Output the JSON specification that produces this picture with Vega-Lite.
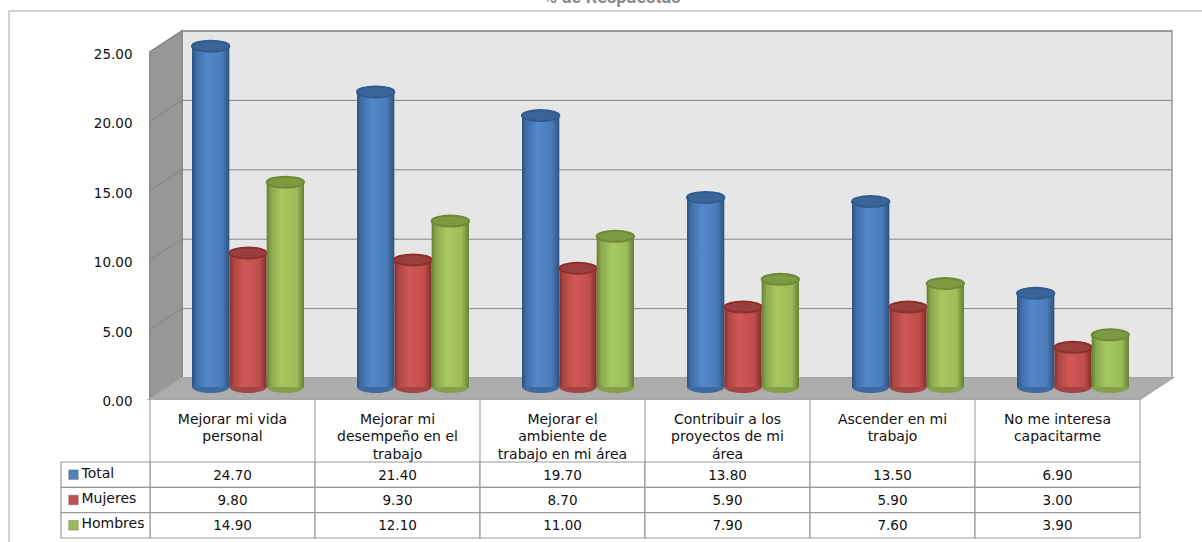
{"$schema":"https://vega.github.io/schema/vega-lite/v6.json","width":990,"height":347,"padding":{"left":150,"top":52,"right":62,"bottom":143},"autosize":"none","background":"white","config":{"view":{"stroke":null}},"datasets":{"rows":[
{"cat":"Mejorar mi vida personal","serie":"Total","value":24.7},{"cat":"Mejorar mi vida personal","serie":"Mujeres","value":9.8},{"cat":"Mejorar mi vida personal","serie":"Hombres","value":14.9},
{"cat":"Mejorar mi desempeño en el trabajo","serie":"Total","value":21.4},{"cat":"Mejorar mi desempeño en el trabajo","serie":"Mujeres","value":9.3},{"cat":"Mejorar mi desempeño en el trabajo","serie":"Hombres","value":12.1},
{"cat":"Mejorar el ambiente de trabajo en mi área","serie":"Total","value":19.7},{"cat":"Mejorar el ambiente de trabajo en mi área","serie":"Mujeres","value":8.7},{"cat":"Mejorar el ambiente de trabajo en mi área","serie":"Hombres","value":11.0},
{"cat":"Contribuir a los proyectos de mi área","serie":"Total","value":13.8},{"cat":"Contribuir a los proyectos de mi área","serie":"Mujeres","value":5.9},{"cat":"Contribuir a los proyectos de mi área","serie":"Hombres","value":7.9},
{"cat":"Ascender en mi trabajo","serie":"Total","value":13.5},{"cat":"Ascender en mi trabajo","serie":"Mujeres","value":5.9},{"cat":"Ascender en mi trabajo","serie":"Hombres","value":7.6},
{"cat":"No me interesa capacitarme","serie":"Total","value":6.9},{"cat":"No me interesa capacitarme","serie":"Mujeres","value":3.0},{"cat":"No me interesa capacitarme","serie":"Hombres","value":3.9}],
"cats":[{"cat":"Mejorar mi vida personal","label":"Mejorar mi vida\npersonal"},{"cat":"Mejorar mi desempeño en el trabajo","label":"Mejorar mi\ndesempeño en el\ntrabajo"},{"cat":"Mejorar el ambiente de trabajo en mi área","label":"Mejorar el\nambiente de\ntrabajo en mi área"},{"cat":"Contribuir a los proyectos de mi área","label":"Contribuir a los\nproyectos de mi\nárea"},{"cat":"Ascender en mi trabajo","label":"Ascender en mi\ntrabajo"},{"cat":"No me interesa capacitarme","label":"No me interesa\ncapacitarme"}],
"ticks":[{"v":0},{"v":5},{"v":10},{"v":15},{"v":20},{"v":25}],
"series":[{"serie":"Total"},{"serie":"Mujeres"},{"serie":"Hombres"}]},
"resolve":{"scale":{"y":"independent"},"axis":{"y":"independent"}},
"encoding":{"x":{"field":"cat","type":"nominal","sort":null,"scale":{"domain":["Mejorar mi vida personal","Mejorar mi desempeño en el trabajo","Mejorar el ambiente de trabajo en mi área","Contribuir a los proyectos de mi área","Ascender en mi trabajo","No me interesa capacitarme"],"paddingInner":0,"paddingOuter":0},"axis":null}},
"layer":[
{"encoding":{"y":{"field":"value","type":"quantitative","scale":{"domain":[0,25],"nice":false},"axis":{"values":[0,5,10,15,20,25],"format":".2f","domain":false,"ticks":false,"grid":false,"title":null,"labelFont":"DejaVu Sans","labelFontSize":13.5,"labelColor":"#111111","labelPadding":18,"labelOffset":2.5}}},
"layer":[
{"data":{"name":"ticks"},"transform":[{"filter":"datum.v==0"}],"mark":{"type":"point","shape":"M32,-21H1022V-368H32Z","size":4,"filled":true,"fill":"#e6e6e6","stroke":"#b0b0b0","opacity":1},"encoding":{"x":{"datum":"Mejorar mi vida personal","bandPosition":0},"y":{"field":"v","type":"quantitative"}}},
{"data":{"name":"ticks"},"transform":[{"filter":"datum.v==0"}],"mark":{"type":"point","shape":"M0,0L32,-21V-368L0,-347Z","size":4,"filled":true,"fill":"#979797","stroke":"#8c8c8c","opacity":1},"encoding":{"x":{"datum":"Mejorar mi vida personal","bandPosition":0},"y":{"field":"v","type":"quantitative"}}},
{"data":{"name":"ticks"},"transform":[{"filter":"datum.v>0"}],"mark":{"type":"point","shape":"M0,0L32,-21H1022","size":4,"filled":false,"stroke":"#868686","strokeWidth":1,"opacity":1},"encoding":{"x":{"datum":"Mejorar mi vida personal","bandPosition":0},"y":{"field":"v","type":"quantitative"}}},
{"data":{"name":"ticks"},"transform":[{"filter":"datum.v==0"}],"mark":{"type":"point","shape":"M0,0H990L1022,-21H32Z","size":4,"filled":true,"fill":"#adadad","stroke":"#a8a8a8","opacity":1},"encoding":{"x":{"datum":"Mejorar mi vida personal","bandPosition":0},"y":{"field":"v","type":"quantitative"}}},
{"data":{"name":"ticks"},"transform":[{"filter":"datum.v==0"}],"mark":{"type":"point","shape":"M-141,145V-388H1060","size":4,"filled":false,"stroke":"#a3a3a3","strokeWidth":1,"opacity":1},"encoding":{"x":{"datum":"Mejorar mi vida personal","bandPosition":0},"y":{"field":"v","type":"quantitative"}}},
{"data":{"name":"ticks"},"transform":[{"filter":"datum.v==25"}],"mark":{"type":"text","text":"% de Respuestas","font":"Roboto","fontSize":18,"color":"#8a8a8a","fontWeight":"bold","baseline":"alphabetic","dy":-49},"encoding":{"x":{"datum":"Mejorar el ambiente de trabajo en mi área","bandPosition":0.8},"y":{"field":"v","type":"quantitative"}}},
{"data":{"name":"rows"},"transform":[{"filter":"datum.serie=='Total'"}],"layer":[
{"mark":{"type":"bar","yOffset":-10,"y2Offset":-12,"color":{"gradient":"linear","x1":0,"x2":1,"y1":0,"y2":0,"stops":[{"offset":0,"color":"#2b5280"},{"offset":0.12,"color":"#3f6fa8"},{"offset":0.4,"color":"#5288ca"},{"offset":0.8,"color":"#4b7cb8"},{"offset":1,"color":"#2c5282"}]}},"encoding":{"y2":{"datum":0},"xOffset":{"field":"serie","type":"nominal","scale":{"domain":["Total","Mujeres","Hombres"],"paddingInner":0,"paddingOuter":0,"range":[42,154]}}}},
{"mark":{"type":"point","shape":"M-18.7,0A18.7,5.5 0 0 1 18.7,0A18.7,5.5 0 0 1 -18.7,0Z","size":4,"filled":true,"fill":"#3a6597","stroke":"#2f5b8f","opacity":1,"yOffset":-10},"encoding":{"xOffset":{"field":"serie","type":"nominal"}}},
{"mark":{"type":"point","shape":"M-18.7,0A18.7,6 0 0 0 18.7,0Z","size":4,"filled":true,"fill":"#3d6a9f","opacity":1,"yOffset":-12},"encoding":{"y":{"datum":0},"xOffset":{"field":"serie","type":"nominal"}}}
]},
{"data":{"name":"rows"},"transform":[{"filter":"datum.serie=='Mujeres'"}],"layer":[
{"mark":{"type":"bar","yOffset":-10,"y2Offset":-12,"color":{"gradient":"linear","x1":0,"x2":1,"y1":0,"y2":0,"stops":[{"offset":0,"color":"#82302d"},{"offset":0.12,"color":"#ad4845"},{"offset":0.4,"color":"#cf5855"},{"offset":0.8,"color":"#bf4f4c"},{"offset":1,"color":"#822e2c"}]}},"encoding":{"y2":{"datum":0},"xOffset":{"field":"serie","type":"nominal"}}},
{"mark":{"type":"point","shape":"M-18.7,0A18.7,5.5 0 0 1 18.7,0A18.7,5.5 0 0 1 -18.7,0Z","size":4,"filled":true,"fill":"#99403e","stroke":"#8f2f2c","opacity":1,"yOffset":-10},"encoding":{"xOffset":{"field":"serie","type":"nominal"}}},
{"mark":{"type":"point","shape":"M-18.7,0A18.7,6 0 0 0 18.7,0Z","size":4,"filled":true,"fill":"#a34542","opacity":1,"yOffset":-12},"encoding":{"y":{"datum":0},"xOffset":{"field":"serie","type":"nominal"}}}
]},
{"data":{"name":"rows"},"transform":[{"filter":"datum.serie=='Hombres'"}],"layer":[
{"mark":{"type":"bar","yOffset":-10,"y2Offset":-12,"color":{"gradient":"linear","x1":0,"x2":1,"y1":0,"y2":0,"stops":[{"offset":0,"color":"#667f33"},{"offset":0.12,"color":"#8aa84e"},{"offset":0.4,"color":"#a6c961"},{"offset":0.8,"color":"#9cbd5a"},{"offset":1,"color":"#667f33"}]}},"encoding":{"y2":{"datum":0},"xOffset":{"field":"serie","type":"nominal"}}},
{"mark":{"type":"point","shape":"M-18.7,0A18.7,5.5 0 0 1 18.7,0A18.7,5.5 0 0 1 -18.7,0Z","size":4,"filled":true,"fill":"#7c9a41","stroke":"#6d8a35","opacity":1,"yOffset":-10},"encoding":{"xOffset":{"field":"serie","type":"nominal"}}},
{"mark":{"type":"point","shape":"M-18.7,0A18.7,6 0 0 0 18.7,0Z","size":4,"filled":true,"fill":"#83a04a","opacity":1,"yOffset":-12},"encoding":{"y":{"datum":0},"xOffset":{"field":"serie","type":"nominal"}}}
]}
]},
{"encoding":{"y":{"field":"serie","type":"nominal","sort":null,"scale":{"domain":["Total","Mujeres","Hombres"],"range":[410,486],"paddingInner":0,"paddingOuter":0},"axis":null}},
"layer":[
{"data":{"name":"rows"},"mark":{"type":"rect","fill":"white","stroke":"#9a9a9a","strokeWidth":1.2},"encoding":{}},
{"data":{"name":"cats"},"mark":{"type":"point","shape":"M0,-12.7V-76","size":4,"filled":false,"stroke":"#a8a8a8","strokeWidth":1.2,"opacity":1},"encoding":{"x":{"field":"cat","type":"nominal","bandPosition":0},"y":{"datum":"Total"}}},
{"data":{"name":"cats"},"transform":[{"filter":"datum.cat=='No me interesa capacitarme'"}],"mark":{"type":"point","shape":"M0,-12.7V-76","size":4,"filled":false,"stroke":"#a8a8a8","strokeWidth":1.2,"opacity":1},"encoding":{"x":{"field":"cat","type":"nominal","bandPosition":1},"y":{"datum":"Total"}}},
{"data":{"name":"series"},"mark":{"type":"point","shape":"M-89,-12.67H0V12.67H-89Z","size":4,"filled":true,"fill":"white","stroke":"#9a9a9a","strokeWidth":1.2,"opacity":1},"encoding":{"x":{"datum":"Mejorar mi vida personal","bandPosition":0}}},
{"data":{"name":"series"},"mark":{"type":"point","shape":"square","size":90,"filled":true,"opacity":1,"stroke":"#555555","strokeWidth":0.4,"xOffset":-159},"encoding":{"x":{"datum":"Mejorar mi vida personal"},"color":{"field":"serie","type":"nominal","scale":{"domain":["Total","Mujeres","Hombres"],"range":["#4f81bd","#c0504d","#9bbb59"]},"legend":null}}},
{"data":{"name":"series"},"mark":{"type":"text","align":"left","font":"DejaVu Sans","fontSize":14,"color":"#111111","xOffset":-151,"yOffset":-1},"encoding":{"x":{"datum":"Mejorar mi vida personal"},"text":{"field":"serie"}}},
{"data":{"name":"rows"},"mark":{"type":"text","font":"DejaVu Sans","fontSize":13.5,"color":"#111111","yOffset":1},"encoding":{"text":{"field":"value","type":"quantitative","format":".2f"}}},
{"data":{"name":"cats"},"mark":{"type":"text","font":"DejaVu Sans","fontSize":14,"color":"#111111","lineBreak":"\n","lineHeight":17.5,"baseline":"top","yOffset":-62},"encoding":{"y":{"datum":"Total"},"text":{"field":"label"}}}
]}
]}
